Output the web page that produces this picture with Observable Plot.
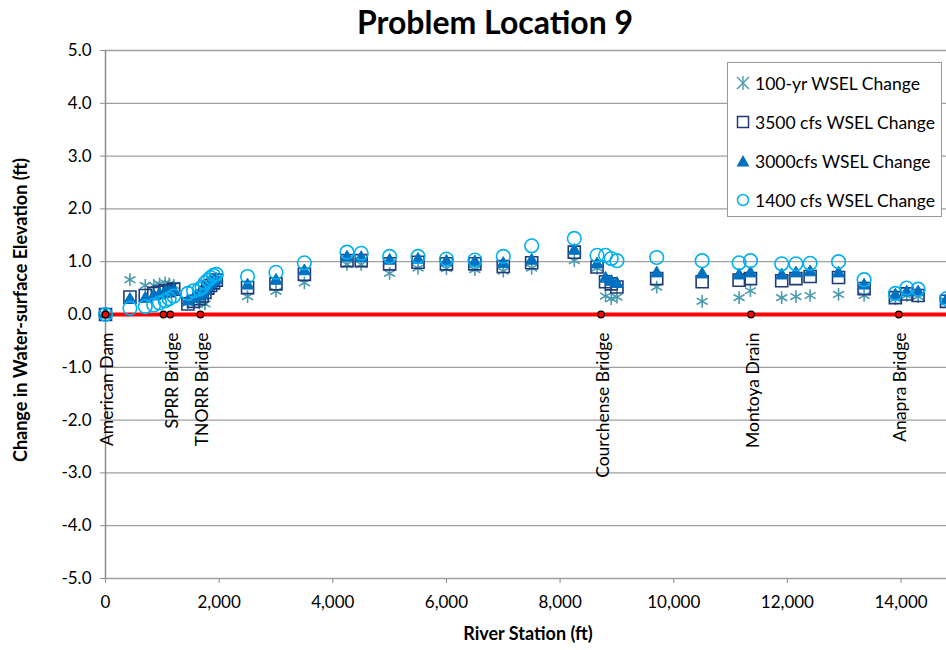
<!DOCTYPE html>
<html>
<head>
<meta charset="utf-8">
<script src="https://cdn.jsdelivr.net/npm/d3@7"></script>
<script src="https://cdn.jsdelivr.net/npm/@observablehq/plot@0.6"></script>
<style>
  body { margin: 0; background: #fff; }
  #wrap { position: relative; width: 946px; height: 650px; font-family: Lato, "Open Sans", sans-serif; overflow: hidden; }
  #title { position: absolute; left: 495px; top: 2px; transform: translateX(-50%); font-size: 32px; font-weight: bold; white-space: nowrap; color: #000; }
  #chart { position: absolute; left: 0; top: 40px; }
  #ylabel { position: absolute; left: 20px; top: 310px; transform: translate(-50%, -50%) rotate(-90deg); font-size: 18px; font-weight: bold; white-space: nowrap; }
  #xlabel { position: absolute; left: 528px; top: 633px; transform: translate(-50%, -50%); font-size: 18px; font-weight: bold; white-space: nowrap; }
  #legend { position: absolute; left: 727px; top: 62px; width: 215px; height: 155px; border: 1px solid #999; background: #fff; box-sizing: border-box; }
  .row { position: absolute; left: 8px; height: 20px; display: flex; align-items: center; font-size: 17.5px; white-space: nowrap; }
  .row svg { margin-right: 5px; }
</style>
</head>
<body>
<div id="wrap">
  <div id="title">Problem Location 9</div>
  <div id="chart"></div>
  <div id="ylabel">Change in Water-surface Elevation (ft)</div>
  <div id="xlabel">River Station (ft)</div>
  <div id="legend"></div>
</div>
<script>
// River stations (ft)
const stations = [0, 430, 700, 850, 950, 1050, 1120, 1200, 1450, 1550, 1650, 1700, 1750, 1800, 1850, 1900, 1950,
  2500, 3000, 3500, 4250, 4500, 5000, 5500, 6000, 6500, 7000, 7500, 8250, 8650, 8800, 8900, 9000,
  9700, 10500, 11150, 11350, 11900, 12150, 12400, 12900, 13350, 13900, 14100, 14300, 14800];
// WSEL change series (ft)
const wsel100yr = [0, 0.66, 0.55, 0.55, 0.58, 0.60, 0.58, 0.55, 0.22, 0.28, 0.22, 0.25, 0.20, 0.45, 0.55, 0.62, 0.65,
  0.34, 0.44, 0.60, 0.95, 0.95, 0.78, 0.88, 0.87, 0.85, 0.82, 0.88, 1.02, 0.88, 0.35, 0.30, 0.33,
  0.52, 0.25, 0.32, 0.45, 0.32, 0.34, 0.36, 0.38, 0.36, 0.30, 0.36, 0.34, 0.25];
const wsel3500 = [0, 0.33, 0.36, 0.40, 0.42, 0.45, 0.45, 0.48, 0.20, 0.25, 0.30, 0.35, 0.42, 0.50, 0.55, 0.60, 0.65,
  0.51, 0.58, 0.76, 1.02, 1.02, 0.96, 0.99, 0.96, 0.96, 0.91, 0.98, 1.18, 0.90, 0.62, 0.58, 0.52,
  0.68, 0.62, 0.65, 0.68, 0.64, 0.68, 0.72, 0.70, 0.49, 0.32, 0.39, 0.36, 0.25];
const wsel3000 = [0, 0.28, 0.30, 0.35, 0.38, 0.42, 0.42, 0.45, 0.25, 0.30, 0.35, 0.38, 0.45, 0.52, 0.58, 0.62, 0.66,
  0.55, 0.64, 0.82, 1.08, 1.07, 1.02, 1.04, 1.00, 0.99, 0.96, 1.02, 1.21, 0.95, 0.68, 0.62, 0.58,
  0.78, 0.76, 0.74, 0.78, 0.74, 0.78, 0.80, 0.78, 0.55, 0.36, 0.42, 0.42, 0.27];
const wsel1400 = [0, 0.12, 0.15, 0.18, 0.22, 0.26, 0.30, 0.35, 0.40, 0.45, 0.48, 0.52, 0.60, 0.65, 0.70, 0.74, 0.76,
  0.72, 0.80, 0.98, 1.18, 1.16, 1.10, 1.10, 1.05, 1.03, 1.10, 1.30, 1.44, 1.12, 1.12, 1.06, 1.02,
  1.08, 1.02, 0.98, 1.02, 0.96, 0.96, 0.97, 1.00, 0.66, 0.40, 0.50, 0.48, 0.30];
// Landmarks
const markerStations = [0, 1020, 1140, 1670, 8720, 11360, 13960];
const labelStations = [0, 1140, 1670, 8720, 11360, 13960];
const labelNames = ["American Dam", "SPRR Bridge", "TNORR Bridge", "Courchense Bridge", "Montoya Drain", "Anapra Bridge"];
// Axes
const xTicks = [0, 2000, 4000, 6000, 8000, 10000, 12000, 14000];
const yTicks = [-5, -4, -3, -2, -1, 0, 1, 2, 3, 4, 5];
const seriesNames = ["100-yr WSEL Change", "3500 cfs WSEL Change", "3000cfs WSEL Change", "1400 cfs WSEL Change"];

const C_AST = "#4a9bb0", C_SQ = "#1f3a78", C_TRI = "#0070c0", C_CIR = "#00b0f0";

const rows = stations.map((s, i) => ({s, a: wsel100yr[i], b: wsel3500[i], c: wsel3000[i], d: wsel1400[i]}));
const marks = markerStations.map(s => ({s}));
const labels = labelStations.map((s, i) => ({s, name: labelNames[i]}));

const chart = Plot.plot({
  width: 946,
  height: 610,
  marginTop: 10,
  marginLeft: 105,
  marginRight: 0,
  marginBottom: 72,
  style: {fontFamily: "Lato, 'Open Sans', sans-serif", fontSize: "17px", color: "#000", background: "transparent", overflow: "visible"},
  x: {domain: [0, 14800], ticks: xTicks, tickFormat: d3.format(","), label: null},
  y: {domain: [-5, 5], ticks: yTicks, tickFormat: d => d.toFixed(1), label: null},
  marks: [
    Plot.ruleY(yTicks, {stroke: "#a0a0a0", strokeWidth: 1.3}),
    Plot.ruleX([0], {stroke: "#8c8c8c", strokeWidth: 1.5}),
    Plot.axisY({ticks: yTicks, tickFormat: d => d.toFixed(1), tickSize: 5, tickPadding: 9, stroke: "#8c8c8c", label: null, fontSize: 17}),
    Plot.axisX({ticks: xTicks, tickFormat: d3.format(","), tickSize: 5, tickPadding: 12, stroke: "#8c8c8c", label: null, fontSize: 17}),
    Plot.ruleY([0], {stroke: "#ff0000", strokeWidth: 4}),
    Plot.dot(rows, {x: "s", y: "a", symbol: "asterisk", r: 6, stroke: C_AST, strokeWidth: 1.6}),
    Plot.dot(rows, {x: "s", y: "b", symbol: "square", r: 6.8, stroke: C_SQ, fill: "none", strokeWidth: 1.6}),
    Plot.dot(rows, {x: "s", y: "c", symbol: "triangle", r: 4.6, fill: C_TRI, stroke: C_TRI, strokeWidth: 1}),
    Plot.dot(rows, {x: "s", y: "d", symbol: "circle", r: 6.8, stroke: C_CIR, fill: "none", strokeWidth: 1.6}),
    Plot.dot(marks, {x: "s", y: () => 0, r: 3.3, fill: "#ff0000", stroke: "#000", strokeWidth: 1.2}),
    Plot.text(labels, {x: "s", y: () => 0, text: "name", rotate: -90, textAnchor: "end", dy: 18, dx: 2, fontSize: 17.5, fill: "#000"})
  ]
});
document.getElementById("chart").appendChild(chart);

// Legend
const legend = document.getElementById("legend");
const symbols = [
  `<svg width="14" height="14" viewBox="-7 -7 14 14"><g stroke="${C_AST}" stroke-width="1.4"><line x1="-6" y1="-6" x2="6" y2="6"/><line x1="-6" y1="6" x2="6" y2="-6"/><line x1="0" y1="-7" x2="0" y2="7"/></g></svg>`,
  `<svg width="14" height="14" viewBox="-7 -7 14 14"><rect x="-5.5" y="-5.5" width="11" height="11" fill="#fff" stroke="${C_SQ}" stroke-width="1.5"/></svg>`,
  `<svg width="14" height="14" viewBox="-7 -7 14 14"><path d="M0,-6L6.5,5.5L-6.5,5.5Z" fill="${C_TRI}"/></svg>`,
  `<svg width="14" height="14" viewBox="-7 -7 14 14"><circle r="5.5" fill="#fff" stroke="${C_CIR}" stroke-width="1.5"/></svg>`
];
seriesNames.forEach((name, i) => {
  const row = document.createElement("div");
  row.className = "row";
  row.style.top = (10 + i * 39) + "px";
  row.innerHTML = symbols[i] + `<span>${name}</span>`;
  legend.appendChild(row);
});
</script>
</body>
</html>
